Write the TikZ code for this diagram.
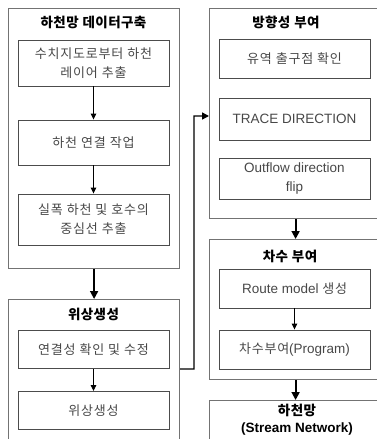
\documentclass[tikz,border=0pt]{standalone}
\usepackage{fontspec}
\usetikzlibrary{arrows.meta,calc}
\newfontfamily\kr{Noto Sans CJK KR}[LetterSpace=6]
\newfontfamily\krb{Noto Sans CJK KR}[LetterSpace=3]
\newfontfamily\lat{Liberation Sans}
\newcommand\wsp{\hspace{4pt}}
\begin{document}
\begin{tikzpicture}[x=1pt,y=-1pt,
  outbox/.style={draw=black!55, line width=1.2pt, inner sep=0pt, anchor=north west},
  inbox/.style={draw=black!70, line width=0.9pt, minimum width=151pt, align=center,
    text=black!72, font=\kr\fontsize{13}{19}\selectfont, inner sep=0pt},
  thinarrow/.style={-{Triangle[width=5.5pt,length=6pt]}, line width=0.9pt},
  thickarrow/.style={-{Triangle[width=8pt,length=8pt]}, line width=1.8pt},
  ttl/.style={font=\krb\bfseries\fontsize{13.5}{17}\selectfont, align=center, inner sep=0pt},
  latx/.style={font=\lat\fontsize{13.5}{19}\selectfont}]
\useasboundingbox (0,0) rectangle (377,439);
\clip (0,0) rectangle (377,439);
% outer boxes
\node[outbox, minimum width=171pt, minimum height=260pt] (L1) at (8,8) {};
\node[outbox, minimum width=171pt, minimum height=170pt] (L2) at (8,299) {};
\node[outbox, minimum width=172pt, minimum height=210pt] (R1) at (209,8) {};
\node[outbox, minimum width=172pt, minimum height=140pt] (R2) at (209,239) {};
\node[outbox, minimum width=172pt, minimum height=70pt] (R3) at (209,400) {};
% titles
\node[ttl] (t1) at (93.5,22) {하천망\wsp 데이터구축};
\node[ttl] (t2) at (93.5,314) {위상생성};
\node[ttl] (t3) at (286,22) {방향성\wsp 부여};
\node[ttl] (t4) at (290,256) {차수\wsp 부여};
\node[ttl] (t5) at (297,420) {하천망\\{\lat\bfseries (Stream Network)}};
% inner boxes left
\node[inbox, minimum height=46pt] (a1) at (93.5,63) {수치지도로부터\wsp 하천\\레이어\wsp 추출};
\node[inbox, minimum height=45pt] (a2) at (93.5,142.5) {하천\wsp 연결\wsp 작업};
\node[inbox, minimum height=51pt] (a3) at (93.5,219.5) {실폭\wsp 하천\wsp 및\wsp 호수의\\중심선\wsp 추출};
\node[inbox, minimum height=38pt] (b1) at (93.5,349.5) {연결성\wsp 확인\wsp 및\wsp 수정};
\node[inbox, minimum height=38pt] (b2) at (93.5,410.5) {위상생성};
% inner boxes right
\node[inbox, minimum height=39pt] (c1) at (294.5,58.5) {유역\wsp 출구점\wsp 확인};
\node[inbox, minimum height=42pt, latx] (c2) at (294.5,119) {TRACE DIRECTION};
\node[inbox, minimum height=41pt, latx] (c3) at (294.5,178.5) {Outflow direction\\flip};
\node[inbox, minimum height=39pt] (c4) at (294.5,288.5) {{\lat\fontsize{13.5}{19}\selectfont Route model }생성};
\node[inbox, minimum height=39pt] (c5) at (294.5,349.5) {차수부여{\lat\fontsize{13.5}{19}\selectfont (Program)}};
% inner arrows
\draw[thinarrow] (a1) -- (a2);
\draw[thinarrow] (a2) -- (a3);
\draw[thinarrow] (b1) -- (b2);
\draw[thinarrow] (c4) -- (c5);
% outer arrows
\draw[thickarrow] (L1.south) -- (L2.north);
\draw[thickarrow] (R1.south) -- (R2.north);
\draw[thickarrow] (R2.south) -- (R3.north);
% connector
\coordinate (cs) at (L2.east |- b1.south);
\coordinate (ce) at (R1.west |- 0,116);
\draw[line width=1.4pt, -{Triangle[width=7pt,length=7pt]}] (cs) -- (194,369) -- (194,116) -- (ce);
\end{tikzpicture}
\end{document}
